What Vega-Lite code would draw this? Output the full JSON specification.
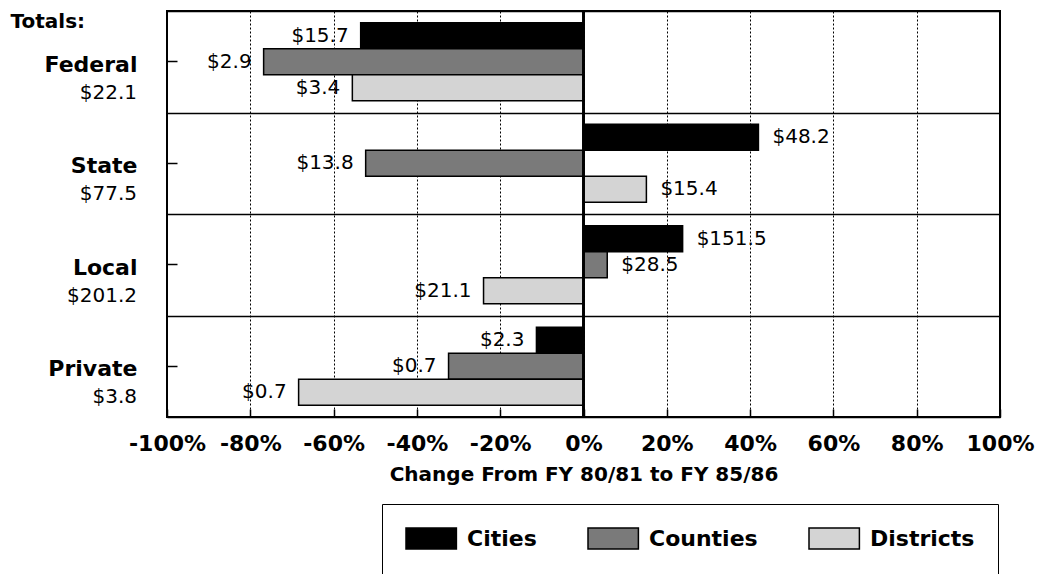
{
  "$schema": "https://vega.github.io/schema/vega-lite/v6.json",
  "width": 833,
  "height": 406,
  "autosize": {"type": "none"},
  "padding": {"left": 167, "top": 11, "right": 41, "bottom": 157},
  "background": "white",
  "config": {
    "view": {"stroke": "#000", "strokeWidth": 2},
    "font": "DejaVu Sans"
  },
  "data": {
    "values": [
      {"source": "Federal", "total": "$22.1", "series": "Cities", "pct": -53.5, "label": "$15.7"},
      {"source": "Federal", "total": "$22.1", "series": "Counties", "pct": -76.8, "label": "$2.9"},
      {"source": "Federal", "total": "$22.1", "series": "Districts", "pct": -55.5, "label": "$3.4"},
      {"source": "State", "total": "$77.5", "series": "Cities", "pct": 42.0, "label": "$48.2"},
      {"source": "State", "total": "$77.5", "series": "Counties", "pct": -52.3, "label": "$13.8"},
      {"source": "State", "total": "$77.5", "series": "Districts", "pct": 15.1, "label": "$15.4"},
      {"source": "Local", "total": "$201.2", "series": "Cities", "pct": 23.8, "label": "$151.5"},
      {"source": "Local", "total": "$201.2", "series": "Counties", "pct": 5.7, "label": "$28.5"},
      {"source": "Local", "total": "$201.2", "series": "Districts", "pct": -24.0, "label": "$21.1"},
      {"source": "Private", "total": "$3.8", "series": "Cities", "pct": -11.3, "label": "$2.3"},
      {"source": "Private", "total": "$3.8", "series": "Counties", "pct": -32.4, "label": "$0.7"},
      {"source": "Private", "total": "$3.8", "series": "Districts", "pct": -68.4, "label": "$0.7"}
    ]
  },
  "layer": [
    {
      "mark": {"type": "bar", "stroke": "#000", "strokeWidth": 1.5},
      "encoding": {
        "x": {
          "field": "pct",
          "type": "quantitative",
          "scale": {"domain": [-100, 100], "nice": false},
          "axis": {
            "values": [-100, -80, -60, -40, -20, 0, 20, 40, 60, 80, 100],
            "labelExpr": "datum.value + '%'",
            "labelFont": "DejaVu Sans",
            "labelFontWeight": "bold",
            "labelFontSize": 22,
            "labelColor": "#000",
            "labelPadding": 24,
            "labelFlush": false,
            "tickSize": -8,
            "tickColor": "#000",
            "tickWidth": 1.5,
            "domain": false,
            "grid": true,
            "gridColor": "#000",
            "gridDash": [2, 2],
            "gridWidth": 1,
            "gridOpacity": 1,
            "title": "Change From FY 80/81 to FY 85/86",
            "titleFont": "DejaVu Sans",
            "titleFontWeight": "bold",
            "titleFontSize": 20,
            "titleColor": "#000",
            "titlePadding": 10
          }
        },
        "y": {
          "field": "source",
          "type": "nominal",
          "sort": ["Federal", "State", "Local", "Private"],
          "scale": {"paddingInner": 0, "paddingOuter": 0},
          "axis": {
            "orient": "left",
            "labelFont": "DejaVu Sans",
            "labelFontWeight": "bold",
            "labelFontSize": 22,
            "labelColor": "#000",
            "labelPadding": 40,
            "labelOffset": 3,
            "tickSize": -10,
            "tickColor": "#000",
            "tickWidth": 1.5,
            "domain": false,
            "grid": false,
            "title": "Totals:",
            "titleAngle": 0,
            "titleAlign": "left",
            "titleBaseline": "middle",
            "titleX": -157,
            "titleY": 10,
            "titleFont": "DejaVu Sans",
            "titleFontWeight": "bold",
            "titleFontSize": 20,
            "titleColor": "#000"
          }
        },
        "yOffset": {
          "field": "series",
          "type": "nominal",
          "sort": ["Cities", "Counties", "Districts"],
          "scale": {"paddingInner": 0, "paddingOuter": 0.45}
        },
        "color": {
          "field": "series",
          "type": "nominal",
          "sort": ["Cities", "Counties", "Districts"],
          "scale": {"domain": ["Cities", "Counties", "Districts"], "range": ["#000000", "#7a7a7a", "#d4d4d4"]},
          "legend": {
            "orient": "none",
            "legendX": 215,
            "legendY": 493,
            "direction": "horizontal",
            "title": null,
            "strokeColor": "#000",
            "padding": 23,
            "symbolType": "M-1,-1H3.8V1H-1Z",
            "symbolSize": 441,
            "symbolStrokeColor": "#000",
            "symbolStrokeWidth": 1.5,
            "symbolOpacity": 1,
            "labelFont": "DejaVu Sans",
            "labelFontWeight": "bold",
            "labelFontSize": 22,
            "labelColor": "#000",
            "labelOffset": 39,
            "labelLimit": 300,
            "columnPadding": 48
          }
        }
      }
    },
    {
      "transform": [{"filter": "datum.pct < 0"}],
      "mark": {"type": "text", "align": "right", "baseline": "middle", "dx": -12, "fontSize": 20, "font": "DejaVu Sans", "color": "#000"},
      "encoding": {
        "x": {"field": "pct", "type": "quantitative"},
        "y": {
          "field": "source",
          "type": "nominal",
          "sort": ["Federal", "State", "Local", "Private"],
          "axis": {
            "orient": "right",
            "labels": false,
            "ticks": false,
            "domain": false,
            "title": null,
            "grid": true,
            "tickBand": "extent",
            "gridColor": "#000",
            "gridWidth": 1.5,
            "gridOpacity": 1
          }
        },
        "yOffset": {"field": "series", "type": "nominal", "sort": ["Cities", "Counties", "Districts"]},
        "text": {"field": "label"}
      }
    },
    {
      "transform": [{"filter": "datum.pct >= 0"}],
      "mark": {"type": "text", "align": "left", "baseline": "middle", "dx": 14, "fontSize": 20, "font": "DejaVu Sans", "color": "#000"},
      "encoding": {
        "x": {"field": "pct", "type": "quantitative"},
        "y": {"field": "source", "type": "nominal", "sort": ["Federal", "State", "Local", "Private"], "axis": null},
        "yOffset": {"field": "series", "type": "nominal", "sort": ["Cities", "Counties", "Districts"]},
        "text": {"field": "label"}
      }
    },
    {
      "transform": [{"filter": "datum.series == 'Cities'"}],
      "mark": {"type": "text", "align": "right", "baseline": "middle", "dx": -30, "dy": 5, "fontSize": 20, "font": "DejaVu Sans", "color": "#000"},
      "encoding": {
        "x": {"datum": -100},
        "y": {"field": "source", "type": "nominal", "sort": ["Federal", "State", "Local", "Private"], "axis": null},
        "yOffset": {"datum": "Districts"},
        "text": {"field": "total"}
      }
    },
    {
      "mark": {"type": "rule", "color": "#000", "strokeWidth": 1.5},
      "encoding": {"x": {"datum": 0}}
    }
  ],
  "resolve": {"axis": {"y": "independent"}}
}
